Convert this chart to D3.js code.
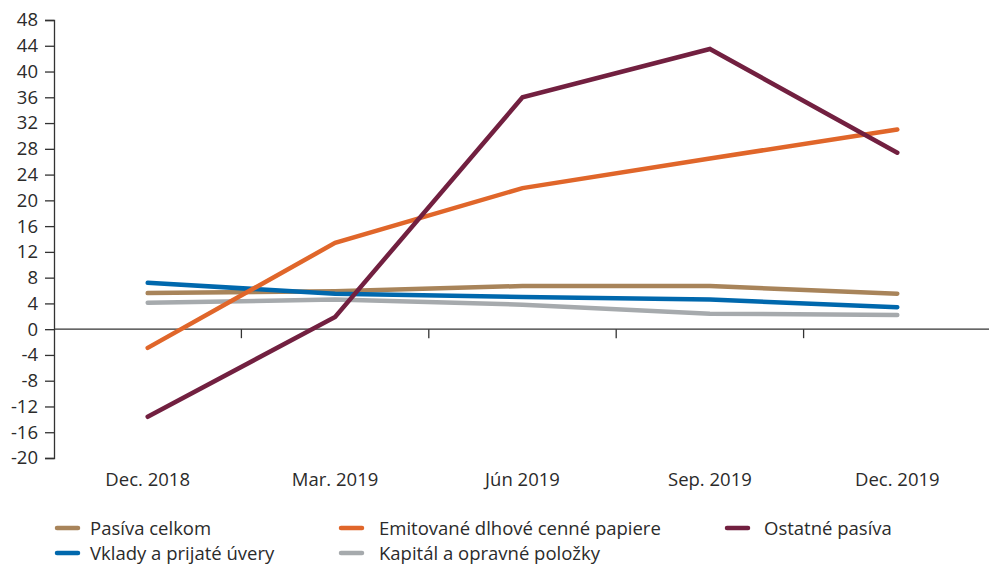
<!DOCTYPE html>
<html>
<head>
<meta charset="utf-8">
<script src="https://cdn.jsdelivr.net/npm/d3@7"></script>
<style>
  html, body { margin: 0; padding: 0; background: #fff; }
  svg { display: block; font-family: "Open Sans", Lato, sans-serif; }
</style>
</head>
<body>
<svg id="chart" width="989" height="564"></svg>
<script>
// Quarters on the horizontal axis
const categories = ["Dec. 2018", "Mar. 2019", "Jún 2019", "Sep. 2019", "Dec. 2019"];

// Year-on-year change, %
const pasivaCelkom   = [5.6, 5.9, 6.7, 6.7, 5.5];
const emitovane      = [-2.9, 13.4, 21.9, 26.5, 31.0];
const ostatnePasiva  = [-13.6, 1.9, 36.0, 43.5, 27.4];
const vkladyUvery    = [7.2, 5.5, 5.0, 4.6, 3.4];
const kapital        = [4.1, 4.6, 3.8, 2.4, 2.2];

const seriesNames = [
  "Pasíva celkom",
  "Emitované dlhové cenné papiere",
  "Ostatné pasíva",
  "Vklady a prijaté úvery",
  "Kapitál a opravné položky"
];
const yTicks = d3.range(-20, 49, 4);

const colors = ["#a8845a", "#e0662a", "#722040", "#0068ad", "#a6aaad"];
const seriesValues = [pasivaCelkom, emitovane, ostatnePasiva, vkladyUvery, kapital];
// drawing order: lower layers first
const drawOrder = [4, 0, 3, 1, 2];

const svg = d3.select("#chart");
const plotLeft = 54, plotRight = 991, plotTop = 20, plotBottom = 458;

const x = d3.scaleBand().domain(categories).range([plotLeft, plotRight]);
const y = d3.scaleLinear().domain([-20, 48]).range([plotBottom, plotTop]);

const textColor = "#2b2b2b";
const fontSize = "18.5px";

// y axis
const yAxis = svg.append("g")
  .attr("transform", `translate(${plotLeft},0)`)
  .call(d3.axisLeft(y).tickValues(yTicks).tickSize(9).tickPadding(7).tickFormat(d3.format("d")));
yAxis.select(".domain").attr("stroke", "#333").attr("stroke-width", 1.3);
yAxis.selectAll(".tick line").attr("stroke", "#333").attr("stroke-width", 1.3);
yAxis.selectAll(".tick text").attr("fill", textColor)
  .attr("font-size", null)
  .style("font-size", fontSize)
  .style("font-family", "'Open Sans', sans-serif")
  .text(d => String(d));
yAxis.attr("font-size", null).attr("font-family", null);

// x axis along zero, with tick marks between categories
const xAxisG = svg.append("g").attr("transform", `translate(0,${y(0)})`);
xAxisG.append("line")
  .attr("x1", plotLeft).attr("x2", plotRight)
  .attr("stroke", "#333").attr("stroke-width", 1.3);
xAxisG.selectAll("line.tick")
  .data(categories.slice(1))
  .join("line")
  .attr("class", "tick")
  .attr("x1", d => x(d)).attr("x2", d => x(d))
  .attr("y1", 0).attr("y2", 9)
  .attr("stroke", "#333").attr("stroke-width", 1.3);

// category labels below the plot
svg.append("g").selectAll("text")
  .data(categories)
  .join("text")
  .attr("x", d => x(d) + x.bandwidth() / 2)
  .attr("y", 486)
  .attr("text-anchor", "middle")
  .attr("fill", textColor)
  .style("font-size", fontSize)
  .text(d => d);

// lines
const line = d3.line()
  .x((d, i) => x(categories[i]) + x.bandwidth() / 2)
  .y(d => y(d));

svg.append("g").selectAll("path")
  .data(drawOrder)
  .join("path")
  .attr("d", i => line(seriesValues[i]))
  .attr("fill", "none")
  .attr("stroke", i => colors[i])
  .attr("stroke-width", 4.5)
  .attr("stroke-linecap", "round")
  .attr("stroke-linejoin", "miter");

// legend: swatch start, text start, row centre
const legendPos = [
  [55, 90, 528], [339, 379, 528], [725, 764, 528],
  [55, 90, 553], [339, 379, 553]
];
const legend = svg.append("g").selectAll("g")
  .data(seriesNames)
  .join("g")
  .attr("transform", (d, i) => `translate(0,${legendPos[i][2]})`);
legend.append("line")
  .attr("x1", (d, i) => legendPos[i][0] + 2)
  .attr("x2", (d, i) => legendPos[i][0] + 23)
  .attr("stroke", (d, i) => colors[i])
  .attr("stroke-width", 4.5)
  .attr("stroke-linecap", "round");
legend.append("text")
  .attr("x", (d, i) => legendPos[i][1]).attr("y", 6.5)
  .attr("fill", textColor)
  .style("font-size", fontSize)
  .text(d => d);
</script>
</body>
</html>
